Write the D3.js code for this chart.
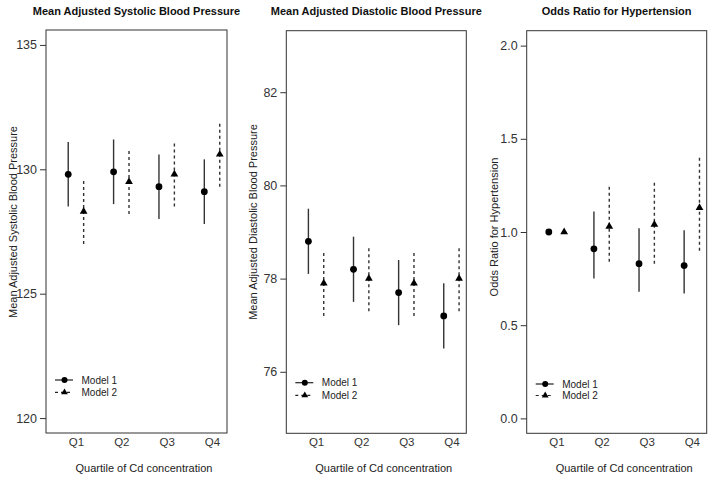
<!DOCTYPE html>
<html><head><meta charset="utf-8">
<script src="https://cdn.jsdelivr.net/npm/d3@7"></script>
<style>body{margin:0;background:#fff}svg{display:block;font-family:"Liberation Sans",Arial,sans-serif}</style>
</head><body>
<svg id="c" width="714" height="480"></svg>
<script>
const quartiles = ["Q1","Q2","Q3","Q4"];
// Systolic
const sbpM1 = [129.8,129.9,129.3,129.1];
const sbpM1Lo = [128.5,128.6,128.0,127.8];
const sbpM1Hi = [131.1,131.2,130.6,130.4];
const sbpM2 = [128.3,129.5,129.8,130.6];
const sbpM2Lo = [127.0,128.2,128.5,129.3];
const sbpM2Hi = [129.6,130.8,131.1,131.9];
const sbpTicks = [120,125,130,135];
// Diastolic
const dbpM1 = [78.8,78.2,77.7,77.2];
const dbpM1Lo = [78.1,77.5,77.0,76.5];
const dbpM1Hi = [79.5,78.9,78.4,77.9];
const dbpM2 = [77.9,78.0,77.9,78.0];
const dbpM2Lo = [77.2,77.3,77.2,77.3];
const dbpM2Hi = [78.6,78.7,78.6,78.7];
const dbpTicks = [76,78,80,82];
// Odds ratio
const orM1 = [1.00,0.91,0.83,0.82];
const orM1Lo = [1.00,0.75,0.68,0.67];
const orM1Hi = [1.00,1.11,1.02,1.01];
const orM2 = [1.00,1.03,1.04,1.13];
const orM2Lo = [1.00,0.84,0.83,0.90];
const orM2Hi = [1.00,1.25,1.28,1.41];
const orTicks = [0,0.5,1.0,1.5,2.0];
const legendLabels = ["Model 1","Model 2"];

const panels = [
  {title:"Mean Adjusted Systolic Blood Pressure", ylab:"Mean Adjusted Systolic Blood Pressure",
   m1:sbpM1,m1lo:sbpM1Lo,m1hi:sbpM1Hi,m2:sbpM2,m2lo:sbpM2Lo,m2hi:sbpM2Hi,
   ylim:[120,135],ticks:sbpTicks,fmt:d3.format("d"),L:46,R:227,T:30,B:433,legY:380,legGap:12.3,ylabY:222},
  {title:"Mean Adjusted Diastolic Blood Pressure", ylab:"Mean Adjusted Diastolic Blood Pressure",
   m1:dbpM1,m1lo:dbpM1Lo,m1hi:dbpM1Hi,m2:dbpM2,m2lo:dbpM2Lo,m2hi:dbpM2Hi,
   ylim:[75,83],ticks:dbpTicks,fmt:d3.format("d"),L:286.3,R:466.3,T:30.7,B:433.3,legY:382.7,legGap:12.6,ylabY:222},
  {title:"Odds Ratio for Hypertension", ylab:"Odds Ratio for Hypertension",
   m1:orM1,m1lo:orM1Lo,m1hi:orM1Hi,m2:orM2,m2lo:orM2Lo,m2hi:orM2Hi,
   ylim:[0,2],ticks:orTicks,fmt:d3.format(".1f"),L:526.7,R:706.7,T:30.7,B:433.3,legY:384,legGap:11.5,ylabY:227}
];

const svg = d3.select("#c");
const off = 0.17;
const tri = d3.symbol().type(d3.symbolTriangle).size(26);

panels.forEach(p => {
  const ext = (p.ylim[1]-p.ylim[0])*0.04;
  const y = d3.scaleLinear().domain([p.ylim[0]-ext,p.ylim[1]+ext]).range([p.B,p.T]);
  const x = d3.scaleLinear().domain([0.34,4.33]).range([p.L,p.R]);
  const g = svg.append("g");

  // box
  g.append("rect").attr("x",p.L).attr("y",p.T).attr("width",p.R-p.L).attr("height",p.B-p.T)
    .attr("fill","none").attr("stroke","#333").attr("stroke-width",1);

  // y axis
  const ya = d3.axisLeft(y).tickValues(p.ticks).tickFormat(p.fmt).tickSize(6).tickPadding(3);
  const yg = g.append("g").attr("transform",`translate(${p.L},0)`).call(ya);
  yg.select(".domain").remove();
  yg.selectAll(".tick line").attr("stroke","#333");
  yg.selectAll(".tick text").attr("font-size","12.5px").attr("fill","#333").attr("font-family","Liberation Sans, Arial, sans-serif");

  // x tick labels
  const xa = d3.axisBottom(x).tickValues([1,2,3,4]).tickFormat((d,i)=>quartiles[i]).tickSize(0).tickPadding(5);
  const xg = g.append("g").attr("transform",`translate(0,${p.B})`).call(xa);
  xg.select(".domain").remove();
  xg.selectAll(".tick text").attr("font-size","11.5px").attr("fill","#333").attr("font-family","Liberation Sans, Arial, sans-serif");

  // titles
  g.append("text").attr("x",(p.L+p.R)/2).attr("y",15).attr("text-anchor","middle")
    .attr("font-size","11px").attr("font-weight","bold").attr("fill","#111").text(p.title);
  g.append("text").attr("x",(x(1)+x(4))/2).attr("y",472).attr("text-anchor","middle")
    .attr("font-size","11px").attr("fill","#222").text("Quartile of Cd concentration");
  g.append("text").attr("transform",`translate(${p.L-29},${p.ylabY}) rotate(-90)`).attr("text-anchor","middle")
    .attr("font-size","11px").attr("fill","#222").text(p.ylab);

  // error bars
  quartiles.forEach((q,i) => {
    const x1 = x(i+1-off), x2 = x(i+1+off);
    if (p.m1hi[i] !== p.m1lo[i])
      g.append("line").attr("x1",x1).attr("x2",x1).attr("y1",y(p.m1lo[i])).attr("y2",y(p.m1hi[i]))
        .attr("stroke","#333").attr("stroke-width",1.4);
    if (p.m2hi[i] !== p.m2lo[i])
      g.append("line").attr("x1",x2).attr("x2",x2).attr("y1",y(p.m2lo[i])).attr("y2",y(p.m2hi[i]))
        .attr("stroke","#333").attr("stroke-width",1.4).attr("stroke-dasharray","3,3");
    g.append("circle").attr("cx",x1).attr("cy",y(p.m1[i])).attr("r",3.4).attr("fill","#000");
    g.append("path").attr("d",tri).attr("transform",`translate(${x2},${y(p.m2[i])})`).attr("fill","#000");
  });

  // legend
  legendLabels.forEach((lab,k) => {
    const ly = p.legY + k*p.legGap;
    const lx0 = p.L+9, lx1 = p.L+27, lm = p.L+18.5;
    g.append("line").attr("x1",lx0).attr("x2",lx1).attr("y1",ly).attr("y2",ly)
      .attr("stroke","#222").attr("stroke-width",1.2).attr("stroke-dasharray",k===1?"3,3":null);
    if (k===0) g.append("circle").attr("cx",lm).attr("cy",ly).attr("r",3).attr("fill","#000");
    else g.append("path").attr("d",d3.symbol().type(d3.symbolTriangle).size(20)).attr("transform",`translate(${lm},${ly})`).attr("fill","#000");
    g.append("text").attr("x",p.L+35.5).attr("y",ly+3.5).attr("font-size","10px").attr("fill","#222").text(lab);
  });
});
</script>
</body></html>
